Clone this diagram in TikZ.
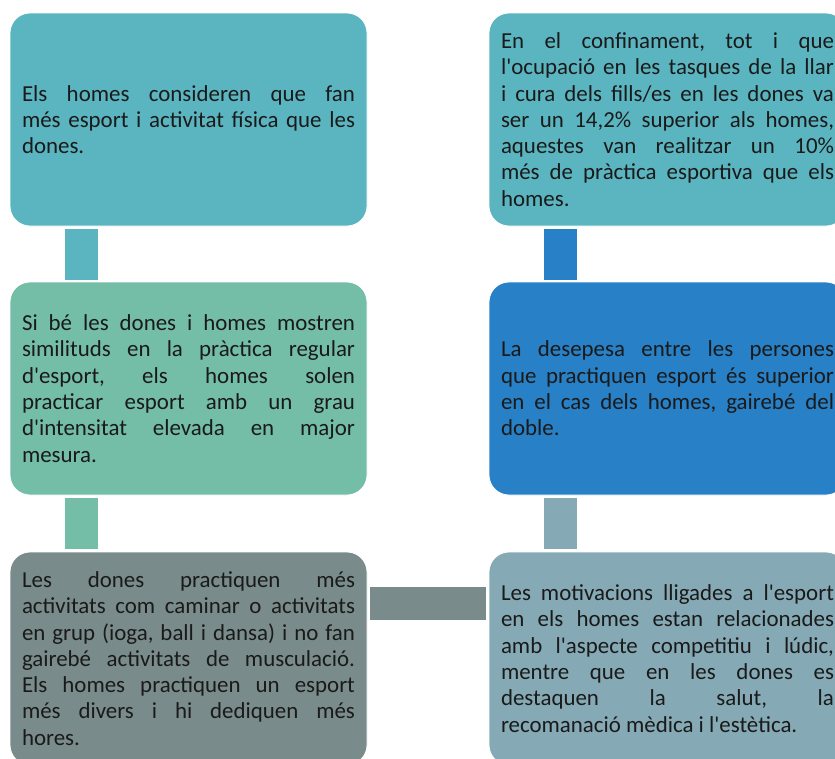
\documentclass[tikz,border=0pt]{standalone}
\usepackage{fontspec}
\setmainfont{Carlito}[Ligatures=TeXOff]
\definecolor{cteal}{HTML}{5BB5C0}
\definecolor{cgreen}{HTML}{74BDA6}
\definecolor{cblue}{HTML}{2880C6}
\definecolor{cgray}{HTML}{798B8A}
\definecolor{cgblue}{HTML}{85AAB5}
\definecolor{txt}{HTML}{1A1A1A}
\newcommand\jl[1]{\hbox to 333pt{\frenchspacing\spaceskip=\fontdimen2\font plus 1fil\relax\xspaceskip=\spaceskip #1}}
\newcommand\lastline[1]{\hbox{#1}}
\begin{document}
\begin{tikzpicture}[x=1pt,y=-1pt,
  box/.style={rectangle, rounded corners=20pt, draw=white, line width=0.8pt,
    minimum width=357pt, minimum height=213pt, text width=333pt, align=justify,
    inner xsep=12pt, inner ysep=0pt, font=\fontsize{22.9}{26.3}\selectfont, text=txt},
  bar/.style={line width=33pt, line cap=butt}]
\useasboundingbox (0,0) rectangle (835,758);
\clip (0,0) rectangle (835,758);
\fill[white] (0,0) rectangle (835,758);

\node[box, fill=cteal] (tl) at (188.5,119.5) {%
\jl{Els homes consideren que fan}
\jl{més esport i activitat física que les}
\lastline{dones.}};

\node[box, fill=cteal] (tr) at (667.5,119.5) {%
\jl{En el confinament, tot i que}
\jl{l'ocupació en les tasques de la llar}
\jl{i cura dels fills/es en les dones va}
\jl{ser un 14,2\% superior als homes,}
\jl{aquestes van realitzar un 10\%}
\jl{més de pràctica esportiva que els}
\lastline{homes.}};

\node[box, fill=cgreen] (ml) at (188.5,388.5) {%
\jl{Si bé les dones i homes mostren}
\jl{similituds en la pràctica regular}
\jl{d'esport, els homes solen}
\jl{practicar esport amb un grau}
\jl{d'intensitat elevada en major}
\lastline{mesura.}};

\node[box, fill=cblue] (mr) at (667.5,388.5) {%
\jl{La desepesa entre les persones}
\jl{que practiquen esport és superior}
\jl{en el cas dels homes, gairebé del}
\lastline{doble.}};

\node[box, fill=cgray] (bl) at (188.5,658.5) {%
\jl{Les dones practiquen més}
\jl{activitats com caminar o activitats}
\jl{en grup (ioga, ball i dansa) i no fan}
\jl{gairebé activitats de musculació.}
\jl{Els homes practiquen un esport}
\jl{més divers i hi dediquen més}
\lastline{hores.}};

\node[box, fill=cgblue] (br) at (667.5,658.5) {%
\jl{Les motivacions lligades a l'esport}
\jl{en els homes estan relacionades}
\jl{amb l'aspecte competitiu i lúdic,}
\jl{mentre que en les dones es}
\jl{destaquen la salut, la}
\lastline{recomanació mèdica i l'estètica.}};

\draw[bar, cteal] ([xshift=71.5pt,yshift=-3pt]tl.south west) -- ([xshift=71.5pt,yshift=2pt]ml.north west);
\draw[bar, cblue] ([xshift=71.5pt,yshift=-3pt]tr.south west) -- ([xshift=71.5pt,yshift=2pt]mr.north west);
\draw[bar, cgreen] ([xshift=71.5pt,yshift=-3pt]ml.south west) -- ([xshift=71.5pt,yshift=3pt]bl.north west);
\draw[bar, cgblue] ([xshift=71.5pt,yshift=-3pt]mr.south west) -- ([xshift=71.5pt,yshift=3pt]br.north west);
\draw[bar, cgray] ([xshift=3pt,yshift=-52pt]bl.north east) -- ([xshift=-3pt,yshift=-52pt]br.north west);
\end{tikzpicture}
\end{document}
